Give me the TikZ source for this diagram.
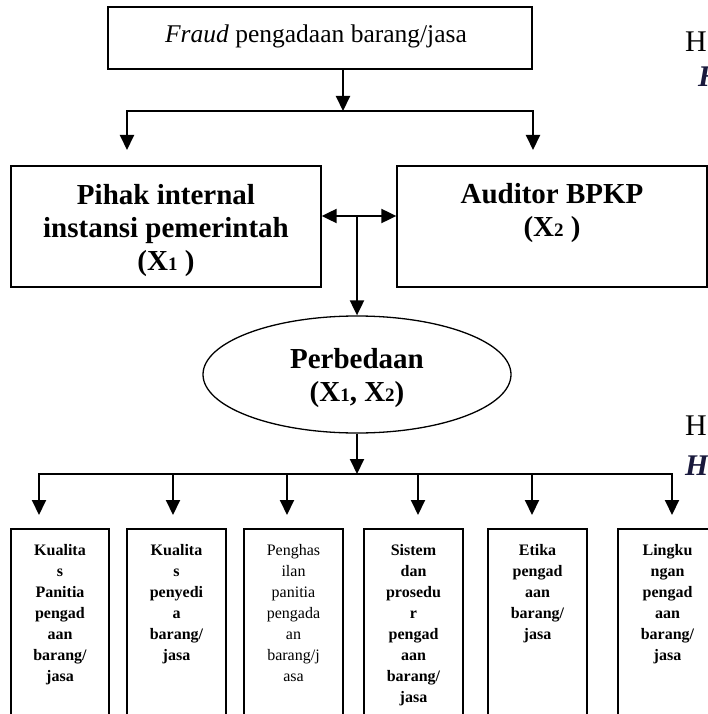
\documentclass[tikz,border=0pt]{standalone}
\usepackage{fontspec}
\setmainfont{Liberation Serif}
\usetikzlibrary{arrows.meta,shapes.geometric}
\definecolor{hnavy}{RGB}{25,25,60}
\newcommand\xsub[1]{{\fontsize{19}{19}\selectfont #1}}
\begin{document}
\begin{tikzpicture}[x=1pt,y=-1pt,
  box/.style={draw,line width=1.3pt,rectangle,inner sep=0pt},
  sbox/.style={draw,line width=1.6pt,rectangle,inner sep=0pt,minimum height=231pt},
  conn/.style={line width=2pt},
  tip/.tip={Triangle[length=15pt,width=14pt]},
  arr/.style={conn,-tip},
  big/.style={font=\fontsize{29}{33}\selectfont\bfseries,align=center,anchor=north,inner sep=0pt},
  small/.style={font=\fontsize{16}{21}\selectfont\bfseries,align=center,anchor=north,inner sep=0pt},
  smallr/.style={font=\fontsize{16}{21}\selectfont,align=center,anchor=north,inner sep=0pt},
  hlab/.style={font=\fontsize{30}{36}\selectfont,anchor=base west,inner sep=0pt},
  hlabi/.style={font=\fontsize{30}{36}\selectfont\bfseries\itshape,text=hnavy,anchor=base west,inner sep=0pt}]
\useasboundingbox (0,0) rectangle (708,714);
\clip (0,0) rectangle (708,714);
\fill[white] (0,0) rectangle (708,714);
% boxes
\node[box,minimum width=424pt,minimum height=62pt] (top) at (320,38) {};
\node[box,minimum width=310pt,minimum height=121pt] (left) at (166,226.5) {};
\node[box,minimum width=310pt,minimum height=121pt] (right) at (552,226.5) {};
\node[draw,line width=1.3pt,ellipse,inner sep=0pt,minimum width=308pt,minimum height=117pt] (ell) at (357,374.5) {};
\node[sbox,minimum width=98pt] (b1) at (60,644.5) {};
\node[sbox,minimum width=99pt] (b2) at (176.5,644.5) {};
\node[sbox,minimum width=99pt] (b3) at (293.5,644.5) {};
\node[sbox,minimum width=99pt] (b4) at (413.5,644.5) {};
\node[sbox,minimum width=99pt] (b5) at (537.5,644.5) {};
\node[sbox,minimum width=99pt] (b6) at (667.5,644.5) {};
% texts
\node[font=\fontsize{25.5}{30}\selectfont,anchor=base,inner sep=0pt] (ttext) at (316,43) {\textit{Fraud} pengadaan barang/jasa};
\node[big] (ltext) at (166,180.9) {\strut Pihak internal\\instansi pemerintah\\(X\xsub{1} )};
\node[big] (rtext) at (552,179.9) {\strut Auditor BPKP\\(X\xsub{2} )};
\node[big] (etext) at (357,344.9) {\strut Perbedaan\\(X\xsub{1}, X\xsub{2})};
\node[small] (t1) at (60,540.3) {\strut Kualita\\s\\Panitia\\pengad\\aan\\barang/\\jasa};
\node[small] (t2) at (176.5,540.3) {\strut Kualita\\s\\penyedi\\a\\barang/\\jasa};
\node[smallr] (t3) at (293.5,540.3) {\strut Penghas\\ilan\\panitia\\pengada\\an\\barang/j\\asa};
\node[small] (t4) at (413.5,540.3) {\strut Sistem\\dan\\prosedu\\r\\pengad\\aan\\barang/\\jasa};
\node[small] (t5) at (537.5,540.3) {\strut Etika\\pengad\\aan\\barang/\\jasa};
\node[small] (t6) at (667.5,540.3) {\strut Lingku\\ngan\\pengad\\aan\\barang/\\jasa};
\node[hlab] (h1) at (685,52) {H};
\node[hlabi] (h2) at (698,87) {H};
\node[hlab] (h3) at (685,435) {H};
\node[hlabi] (h4) at (685,475) {H};
% connectors top
\coordinate (ja) at (343,111);
\coordinate (jl) at (127,111);
\coordinate (jr) at (533,111);
\coordinate (tl) at (127,150);
\coordinate (tr) at (533,150);
\draw[arr] (top.south -| ja) -- (ja);
\draw[conn,tip-tip] (tl) -- (jl) -- (jr) -- (tr);
% middle
\coordinate (m) at (357,216);
\draw[conn,tip-tip] (left.east |- m) -- (right.west |- m);
\draw[arr] (m) -- (ell.north);
% bottom
\coordinate (jb) at (357,474);
\draw[arr] (ell.south) -- (jb);
\coordinate (a1) at (39,515);
\coordinate (a2) at (173,515);
\coordinate (a3) at (287,515);
\coordinate (a4) at (418,515);
\coordinate (a5) at (532,515);
\coordinate (a6) at (672,515);
\draw[conn,tip-tip] (a1) -- (a1 |- jb) -- (a6 |- jb) -- (a6);
\draw[arr] (a2 |- jb) -- (a2);
\draw[arr] (a3 |- jb) -- (a3);
\draw[arr] (a4 |- jb) -- (a4);
\draw[arr] (a5 |- jb) -- (a5);
\end{tikzpicture}
\end{document}
